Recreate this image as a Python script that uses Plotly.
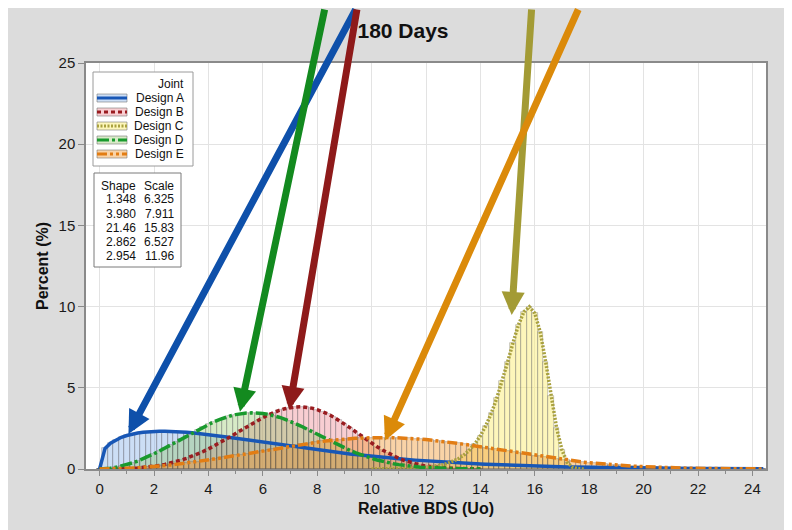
import plotly.graph_objects as go

# ---------------- data ----------------
title_text = "180 Days"
x_title = "Relative BDS (Uo)"
y_title = "Percent (%)"
legend_title = "Joint"
designs = ["Design A", "Design B", "Design C", "Design D", "Design E"]
shape_txt = ["1.348", "3.980", "21.46", "2.862", "2.954"]
scale_txt = ["6.325", "7.911", "15.83", "6.527", "11.96"]

bin_width = 0.2
start_a, start_b, start_c, start_d, start_e = 0.0, 0.0, 10.0, 0.0, 0.0

pct_a = [0, 1.269, 1.592, 1.801, 1.952, 2.064, 2.149, 2.213, 2.259, 2.290, 2.310, 2.320, 2.320, 2.314,
         2.300, 2.280, 2.256, 2.227, 2.195, 2.158, 2.120, 2.078, 2.035, 1.990, 1.944, 1.896, 1.847,
         1.798, 1.749, 1.699, 1.649, 1.599, 1.550, 1.500, 1.451, 1.403, 1.355, 1.308, 1.262, 1.217,
         1.172, 1.129, 1.086, 1.045, 1.004, 0.965, 0.926, 0.889, 0.852, 0.817, 0.783, 0.750, 0.717,
         0.686, 0.656, 0.627, 0.600, 0.573, 0.547, 0.522, 0.498, 0.474, 0.452, 0.431, 0.410, 0.391,
         0.372, 0.353, 0.336, 0.319, 0.304, 0.288, 0.274, 0.260, 0.247, 0.234, 0.222, 0.210, 0.199,
         0.189, 0.179, 0.169, 0.160, 0.152, 0.143, 0.136, 0.128, 0.121, 0.115, 0.108, 0.102, 0.096,
         0.091, 0.086, 0.081, 0.076, 0.072, 0.068, 0.064, 0.060, 0.057, 0.053, 0.050, 0.047, 0.045,
         0.042, 0.039, 0.037, 0.035, 0.033, 0.031, 0.029, 0.027, 0.025, 0.024, 0.022, 0.021, 0.020,
         0.019, 0.017, 0.016, 0.015, 0.014]

pct_b = [0, 0.000, 0.001, 0.005, 0.011, 0.021, 0.037, 0.058, 0.086, 0.122, 0.166, 0.221, 0.285, 0.361,
         0.448, 0.548, 0.660, 0.785, 0.922, 1.072, 1.234, 1.407, 1.590, 1.781, 1.979, 2.182, 2.387,
         2.591, 2.791, 2.984, 3.165, 3.331, 3.479, 3.606, 3.707, 3.780, 3.822, 3.831, 3.807, 3.749,
         3.657, 3.534, 3.381, 3.201, 2.999, 2.780, 2.548, 2.308, 2.066, 1.826, 1.594, 1.373, 1.166,
         0.977, 0.807, 0.656, 0.525, 0.414, 0.321, 0.244, 0.183, 0.135, 0.097, 0.069, 0.048, 0.032,
         0.022, 0.014, 0.009, 0.006, 0.003]

pct_c = [0.002, 0.003, 0.005, 0.007, 0.011, 0.016, 0.023, 0.033, 0.047, 0.066, 0.094, 0.131, 0.182,
         0.253, 0.347, 0.475, 0.645, 0.872, 1.169, 1.553, 2.046, 2.662, 3.426, 4.343, 5.405, 6.582,
         7.776, 8.875, 9.684, 9.987, 9.592, 8.424, 6.599, 4.484, 2.539, 1.151, 0.391, 0.093, 0.014,
         0.001]

pct_d = [0, 0.013, 0.048, 0.103, 0.176, 0.266, 0.372, 0.493, 0.629, 0.777, 0.937, 1.108, 1.286, 1.471,
         1.660, 1.851, 2.043, 2.231, 2.414, 2.589, 2.755, 2.908, 3.045, 3.166, 3.268, 3.349, 3.409,
         3.446, 3.459, 3.449, 3.416, 3.361, 3.285, 3.189, 3.074, 2.944, 2.800, 2.645, 2.481, 2.311,
         2.138, 1.963, 1.790, 1.620, 1.455, 1.299, 1.150, 1.010, 0.880, 0.761, 0.654, 0.556, 0.470,
         0.393, 0.327, 0.269, 0.220, 0.178, 0.143, 0.114, 0.090, 0.070, 0.055, 0.042, 0.032, 0.024,
         0.018, 0.013, 0.010, 0.007, 0.005]

pct_e = [0, 0.002, 0.007, 0.014, 0.025, 0.039, 0.055, 0.075, 0.097, 0.122, 0.149, 0.180, 0.212, 0.248,
         0.286, 0.326, 0.368, 0.413, 0.460, 0.508, 0.559, 0.611, 0.664, 0.720, 0.776, 0.833, 0.891,
         0.949, 1.008, 1.068, 1.127, 1.185, 1.243, 1.301, 1.357, 1.412, 1.466, 1.518, 1.567, 1.615,
         1.660, 1.702, 1.741, 1.778, 1.811, 1.840, 1.866, 1.888, 1.907, 1.921, 1.931, 1.937, 1.939,
         1.937, 1.931, 1.921, 1.907, 1.888, 1.866, 1.840, 1.811, 1.779, 1.742, 1.703, 1.662, 1.618,
         1.571, 1.522, 1.472, 1.420, 1.367, 1.313, 1.258, 1.203, 1.147, 1.091, 1.036, 0.981, 0.927,
         0.874, 0.822, 0.771, 0.721, 0.673, 0.627, 0.582, 0.539, 0.498, 0.459, 0.422, 0.387, 0.354,
         0.323, 0.294, 0.266, 0.241, 0.218, 0.196, 0.176, 0.157, 0.140, 0.125, 0.111, 0.098, 0.086,
         0.076, 0.067, 0.058, 0.051, 0.044, 0.038, 0.033, 0.029, 0.025, 0.021, 0.018, 0.015, 0.013,
         0.011, 0.009, 0.008, 0.006, 0.005]

x_tick_vals = [0, 2, 4, 6, 8, 10, 12, 14, 16, 18, 20, 22, 24]
y_tick_vals = [0, 5, 10, 15, 20, 25]

# arrow callouts (Design A, D, B, C, E): tip in data units
arrow_series = [0, 3, 1, 2, 4]
arrow_tip_x = [1.06, 5.16, 6.97, 15.15, 10.49]
arrow_tip_y = [2.16, 3.53, 3.65, 9.48, 1.75]

# ---------------- styles ----------------
FONT = "Liberation Sans, Arial, sans-serif"
line_colors = ["#1857b6", "#9a1c20", "#a9a13e", "#199a2e", "#e27d14"]
fill_colors = ["rgba(110,160,225,0.35)", "rgba(235,115,125,0.35)", "rgba(252,238,120,0.5)",
               "rgba(140,195,95,0.35)", "rgba(240,150,45,0.42)"]
dashes = ["solid", "4px,3px", "2px,1.5px", "12px,3px,3px,3px", "10px,3px,3px,3px,3px,3px"]
arrow_colors = ["#0e50aa", "#8e1a1a", "#a39b35", "#138a1f", "#db8a0a"]  # by series A..E
arrow_ax = [228, 85, 68, 20, 194]
arrow_ay = [-444, -422, -420, -325, -452]

series = [(start_a, pct_a), (start_b, pct_b), (start_c, pct_c), (start_d, pct_d), (start_e, pct_e)]

fig = go.Figure()
for i, (st, vals) in enumerate(series):
    xs = [round(st + k * bin_width, 2) for k in range(len(vals))]
    fig.add_trace(go.Bar(x=xs, y=vals, width=bin_width, name=designs[i], showlegend=False,
                         marker=dict(color=fill_colors[i], line=dict(color="rgba(85,85,95,0.45)", width=0.7)),
                         hoverinfo="skip"))
for i, (st, vals) in enumerate(series):
    xs = [round(st + k * bin_width, 2) for k in range(len(vals))]
    fig.add_trace(go.Scatter(x=xs, y=vals, mode="lines", name=designs[i], showlegend=False,
                             line=dict(color=line_colors[i], width=3.5, dash=dashes[i])))

# the page has an 8px body margin; positions below are given in page pixels
OFF = 8
W, H = 792, 530
PL, PR, PT, PB = 86 - OFF, 766 - OFF, 63 - OFF, 469 - OFF


def fx(p):
    return (p - OFF - PL) / (PR - PL)


def fy(p):
    return (PB - (p - OFF)) / (PB - PT)


shapes = []
annotations = []
txt_font = dict(family=FONT, size=12, color="#111")

# legend box
shapes.append(dict(type="rect", xref="paper", yref="paper", x0=fx(93), x1=fx(193), y0=fy(166), y1=fy(72),
                   fillcolor="white", line=dict(color="#9a9a9a", width=1), layer="above"))
annotations.append(dict(xref="paper", yref="paper", x=fx(185), y=fy(84), text=legend_title, showarrow=False,
                        xanchor="right", yanchor="middle", font=txt_font, borderpad=0))
for i in range(5):
    yc = 98 + 14 * i
    shapes.append(dict(type="rect", xref="paper", yref="paper", x0=fx(97), x1=fx(127), y0=fy(yc + 4),
                       y1=fy(yc - 4), fillcolor=fill_colors[i], line=dict(color="rgba(120,120,120,0.6)", width=1),
                       layer="above"))
    shapes.append(dict(type="line", xref="paper", yref="paper", x0=fx(97), x1=fx(127), y0=fy(yc), y1=fy(yc),
                       line=dict(color=line_colors[i], width=3, dash=dashes[i]), layer="above"))
    annotations.append(dict(xref="paper", yref="paper", x=fx(185), y=fy(yc), text=designs[i], showarrow=False,
                            xanchor="right", yanchor="middle", font=txt_font, borderpad=0))

# parameter table
shapes.append(dict(type="rect", xref="paper", yref="paper", x0=fx(94), x1=fx(181), y0=fy(267), y1=fy(173),
                   fillcolor="white", line=dict(color="#7a7a7a", width=1), layer="above"))
table_rows = [("Shape", "Scale")] + list(zip(shape_txt, scale_txt))
for r, (s_txt, c_txt) in enumerate(table_rows):
    yc = 185.5 + 14 * r
    annotations.append(dict(xref="paper", yref="paper", x=fx(137), y=fy(yc), text=s_txt, showarrow=False,
                            xanchor="right", yanchor="middle", font=txt_font, borderpad=0))
    annotations.append(dict(xref="paper", yref="paper", x=fx(175), y=fy(yc), text=c_txt, showarrow=False,
                            xanchor="right", yanchor="middle", font=txt_font, borderpad=0))

# big arrow callouts
for j in range(5):
    annotations.append(dict(x=arrow_tip_x[j], y=arrow_tip_y[j], xref="x", yref="y", text="",
                            showarrow=True, arrowhead=2, arrowsize=0.66, arrowwidth=7,
                            arrowcolor=arrow_colors[arrow_series[j]],
                            ax=arrow_ax[j], ay=arrow_ay[j], standoff=0))

fig.update_layout(
    width=W, height=H,
    margin=dict(l=PL, r=W - PR, t=PT, b=H - PB, pad=0),
    paper_bgcolor="#dcdcdc", plot_bgcolor="white",
    barmode="overlay", bargap=0,
    showlegend=False,
    font=dict(family=FONT, size=15, color="#1a1a1a"),
    title=dict(text="<b>" + title_text + "</b>", xref="container", yref="container",
               x=(403 - OFF) / W, y=1 - (31 - OFF) / H, xanchor="center", yanchor="middle",
               font=dict(family=FONT, size=21, color="#111")),
    shapes=shapes, annotations=annotations,
)
fig.update_xaxes(range=[-0.5, 24.5], tickvals=x_tick_vals, ticks="outside", ticklen=5, tickcolor="#8a8a8a",
                 showgrid=True, gridcolor="#e3e3e3", gridwidth=1, zeroline=False,
                 showline=True, linecolor="#8a8a8a", linewidth=1.5, mirror=True,
                 minor=dict(dtick=1, tick0=0, ticks="outside", ticklen=3, tickcolor="#8a8a8a", showgrid=False),
                 tickfont=dict(size=15), automargin=False,
                 title=dict(text="<b>" + x_title + "</b>", font=dict(size=16, color="#111"), standoff=7))
fig.update_yaxes(range=[0, 25], tickvals=y_tick_vals, ticks="outside", ticklen=6, tickcolor="#8a8a8a",
                 showgrid=True, gridcolor="#e3e3e3", gridwidth=1, zeroline=False,
                 showline=True, linecolor="#8a8a8a", linewidth=1.5, mirror=True,
                 tickfont=dict(size=15), automargin=False,
                 title=dict(text="<b>" + y_title + "</b>", font=dict(size=16, color="#111"), standoff=6))

fig.write_html("out.html")
